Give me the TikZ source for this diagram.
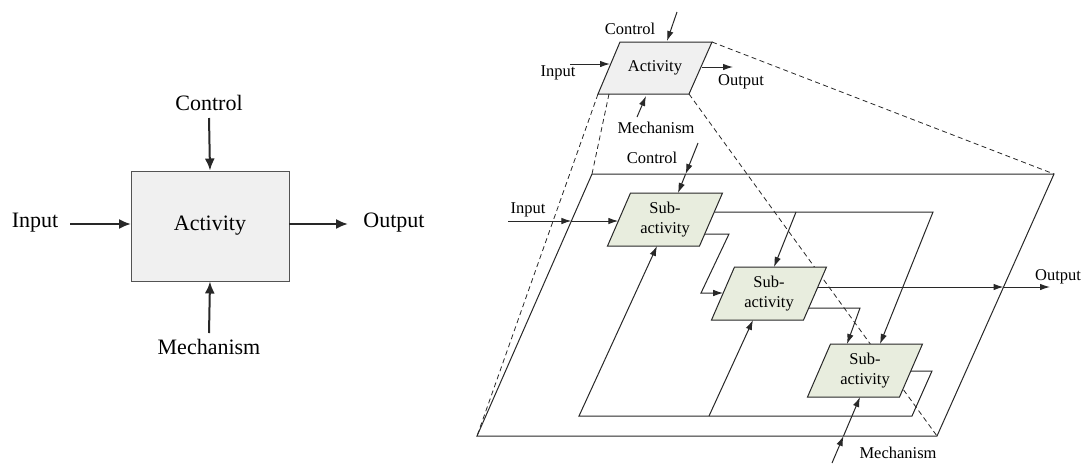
\documentclass[tikz,border=0pt]{standalone}
\usepackage{fontspec}
\setmainfont{Liberation Serif}
\usetikzlibrary{arrows.meta,calc}
\definecolor{actgray}{RGB}{240,240,240}
\definecolor{subgreen}{RGB}{232,237,222}
\definecolor{ln}{RGB}{40,40,40}
\tikzset{
  bigtxt/.style={font=\fontsize{22}{24}\selectfont, inner sep=0pt},
  smalltxt/.style={font=\fontsize{16.5}{18}\selectfont, inner sep=0pt},
  bigarrow/.style={draw=ln, line width=2pt, -{Latex[length=12pt,width=10pt]}},
  arr/.style={draw=ln, line width=1pt, -{Latex[length=10pt,width=6.5pt]}},
  wire/.style={draw=ln, line width=1pt},
  dashline/.style={draw=ln, line width=0.8pt, dash pattern=on 5pt off 3.5pt},
  subbox/.style={draw=ln, line width=1pt, fill=subgreen},
  actbox/.style={draw=ln, line width=1pt, fill=actgray},
}
\begin{document}
\begin{tikzpicture}[x=1pt,y=-1pt]
\useasboundingbox (0,0) rectangle (1084,467);

% ---------------- left: single activity ----------------
\node[draw=ln!80, line width=1pt, fill=actgray, minimum width=158pt, minimum height=110pt, bigtxt] (act0) at (210,226) {Activity};
\node[bigtxt] (c0) at (209,103) {Control};
\node[bigtxt] (i0) at (35,223) {Input};
\node[bigtxt] (o0) at (394,223) {Output};
\node[bigtxt] (m0) at (209,347) {Mechanism};
\coordinate (c0s) at (209,118);
\coordinate (i0s) at (70,224);
\coordinate (i0e) at (131,224);
\coordinate (o0s) at (289,224);
\coordinate (o0e) at (348,224);
\coordinate (m0s) at (209,333);
\draw[bigarrow] (c0s) -- (act0.north);
\draw[bigarrow] (i0s) -- (i0e);
\draw[bigarrow] (o0s) -- (o0e);
\draw[bigarrow] (m0s) -- (act0.south);

% ---------------- right: decomposition ----------------
% small activity
\coordinate (a1) at (620,42); \coordinate (a2) at (712,42);
\coordinate (a3) at (689,94); \coordinate (a4) at (598,94);
\coordinate (a5) at (609,94);
\draw[actbox] (a1) -- (a2) -- (a3) -- (a4) -- cycle;
\node[smalltxt] (act) at (655,68) {Activity};
\node[smalltxt] (ct) at (630,29) {Control};
\node[smalltxt] (it) at (558,73) {Input};
\node[smalltxt] (ot) at (741,82) {Output};
\node[smalltxt] (mt) at (656,128) {Mechanism};
\coordinate (cts) at (677,12); \coordinate (cte) at (667,41);
\coordinate (its) at (570,64); \coordinate (ite) at (610,64);
\coordinate (ots) at (702,67); \coordinate (ote) at (733,67);
\coordinate (mts) at (637,117); \coordinate (mte) at (646,96);
\draw[arr] (cts) -- (cte);
\draw[arr] (its) -- (ite);
\draw[arr] (ots) -- (ote);
\draw[arr] (mts) -- (mte);

% big frame
\coordinate (f1) at (592,174); \coordinate (f2) at (1054,174);
\coordinate (f3) at (937,436); \coordinate (f4) at (477,436);
\draw[wire] (f1) -- (f2) -- (f3) -- (f4) -- cycle;

% dashed projection lines
\draw[dashline] (a2) -- (f2);
\draw[dashline] (a3) -- (f3);
\draw[dashline] (a4) -- (f4);
\draw[dashline] (a5) -- (f1);

% sub-activities
\foreach \n/\cx/\cy in {s1/665/219.5, s2/769/293.5, s3/865/370.5}{
  \draw[subbox] (\cx-34.5,\cy-26.5) -- (\cx+57.5,\cy-26.5) -- (\cx+34.5,\cy+26.5) -- (\cx-57.5,\cy+26.5) -- cycle;
  \node[smalltxt, align=center, font=\fontsize{16.5}{20}\selectfont] (\n) at (\cx,\cy) {Sub-\\activity};
}

% labels inside frame
\node[smalltxt] (ci) at (652,158) {Control};
\node[smalltxt] (ii) at (528,210) {Input};
\node[smalltxt] (oi) at (1058,277) {Output};
\node[smalltxt] (mi) at (898,453) {Mechanism};

% input
\coordinate (in0) at (508,221); \coordinate (in1) at (571.4,221); \coordinate (in2) at (618.3,221);
\draw[arr] (in0) -- (in1);
\draw[arr] (in1) -- (in2);
% control
\coordinate (cn0) at (698,143); \coordinate (cn1) at (685.6,174); \coordinate (cn2) at (678,193);
\draw[arr] (cn0) -- (cn1);
\draw[arr] (cn1) -- (cn2);
% sub1 output 1
\coordinate (p1) at (714.3,212); \coordinate (p2) at (933,212); \coordinate (p3) at (880,344);
\coordinate (p4) at (796,212); \coordinate (p5) at (774,267);
\draw[arr] (p1) -- (p2) -- (p3);
\draw[arr] (p4) -- (p5);
% sub1 output 2
\coordinate (q1) at (704.7,234); \coordinate (q2) at (729,234); \coordinate (q3) at (701,293); \coordinate (q4) at (723.2,293);
\draw[arr] (q1) -- (q2) -- (q3) -- (q4);
% sub2 output 1
\coordinate (r1) at (817.8,287); \coordinate (r2) at (1003.5,287); \coordinate (r3) at (1050,287);
\draw[arr] (r1) -- (r2);
\draw[arr] (r2) -- (r3);
% sub2 output 2
\coordinate (t1) at (808.7,308); \coordinate (t2) at (860,308); \coordinate (t3) at (847,344);
\draw[arr] (t1) -- (t2) -- (t3);
% sub3 feedback
\coordinate (u1) at (910.8,371); \coordinate (u2) at (932,371); \coordinate (u3) at (912,416);
\coordinate (u4) at (579,416); \coordinate (u5) at (657,246);
\coordinate (u6) at (709,416); \coordinate (u7) at (753,320);
\draw[arr] (u1) -- (u2) -- (u3) -- (u4) -- (u5);
\draw[arr] (u6) -- (u7);
% mechanism
\coordinate (m1) at (832,463); \coordinate (m2) at (843.5,436); \coordinate (m3) at (860,397);
\draw[arr] (m1) -- (m2);
\draw[arr] (m2) -- (m3);
\end{tikzpicture}
\end{document}
